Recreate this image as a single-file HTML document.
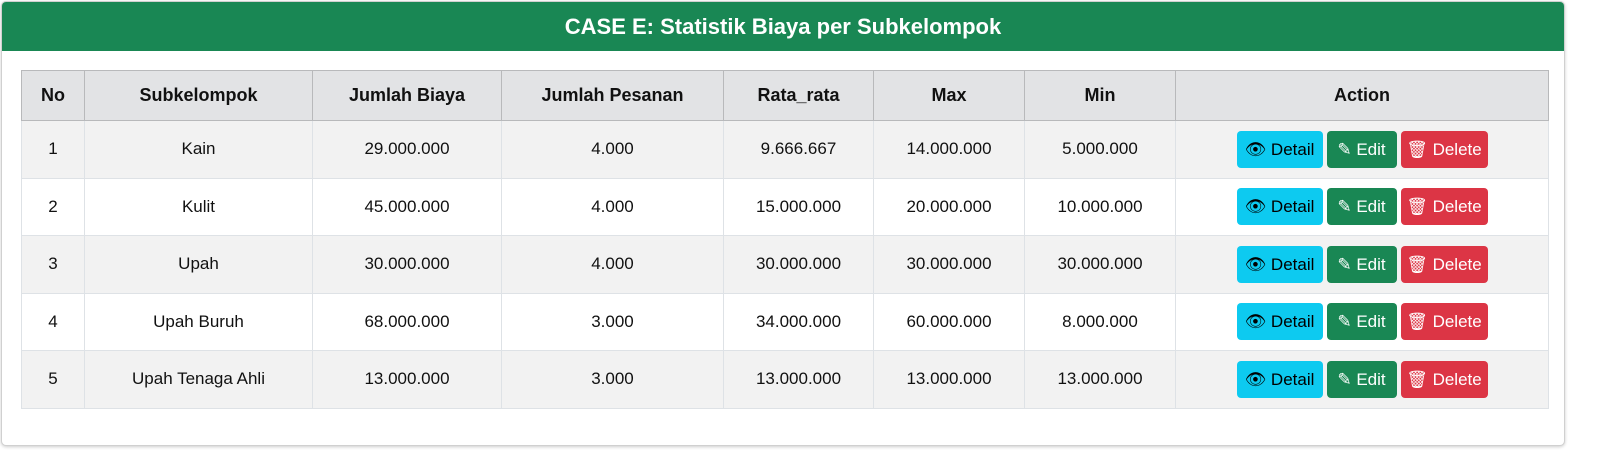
<!DOCTYPE html>
<html><head><meta charset="utf-8"><style>
body{margin:0;width:1620px;height:463px;background:#fff;font-family:"Liberation Sans",sans-serif;overflow:hidden}
.card{position:absolute;left:1px;top:1px;width:1562px;height:443px;border:1px solid #d0d0d0;border-radius:5px;box-shadow:0 1px 3px rgba(0,0,0,.2);overflow:hidden;background:#fff}
.head{height:49px;background:#198754;color:#fff;font-weight:bold;font-size:22px;text-align:center;line-height:50px}
table{position:absolute;left:19px;top:68px;border-collapse:collapse;table-layout:fixed;width:1527px}
th,td{text-align:center;border:1px solid #dee2e6;font-size:17px;color:#111;padding:0}
th{background:#e2e3e5;border-color:#b8b9bb;height:49px;font-weight:bold;font-size:18px}
td{height:56.5px}
tr.odd td{background:#f2f2f2}
.btn{display:inline-block;height:37px;line-height:37px;border-radius:4px;font-size:17px;vertical-align:middle;margin:0 2px}
.d{background:#0dcaf0;color:#000;width:86px}.e{background:#198754;color:#fff;width:70px}.x{background:#dc3545;color:#fff;width:87px}
</style></head><body>
<div class="card">
<div class="head">CASE E: Statistik Biaya per Subkelompok</div>
<table>
<colgroup><col style="width:63px"><col style="width:228px"><col style="width:189px"><col style="width:222px"><col style="width:150px"><col style="width:151px"><col style="width:151px"><col style="width:373px"></colgroup>
<thead><tr><th>No</th><th>Subkelompok</th><th>Jumlah Biaya</th><th>Jumlah Pesanan</th><th>Rata_rata</th><th>Max</th><th>Min</th><th>Action</th></tr></thead>
<tbody id="tb"></tbody></table></div>
<script>
const rows=[["1","Kain","29.000.000","4.000","9.666.667","14.000.000","5.000.000"],
["2","Kulit","45.000.000","4.000","15.000.000","20.000.000","10.000.000"],
["3","Upah","30.000.000","4.000","30.000.000","30.000.000","30.000.000"],
["4","Upah Buruh","68.000.000","3.000","34.000.000","60.000.000","8.000.000"],
["5","Upah Tenaga Ahli","13.000.000","3.000","13.000.000","13.000.000","13.000.000"]];
const tb=document.getElementById('tb');
rows.forEach((r,i)=>{
const tr=document.createElement('tr');


if(i%2==0)tr.className='odd';
r.forEach(v=>{const td=document.createElement('td');td.textContent=v;tr.appendChild(td);});
const td=document.createElement('td');
td.innerHTML='<span class="btn d">&#128065; Detail</span><span class="btn e">&#9998; Edit</span><span class="btn x">&#128465; Delete</span>';
tr.appendChild(td);tb.appendChild(tr);});
</script>
</body></html>
